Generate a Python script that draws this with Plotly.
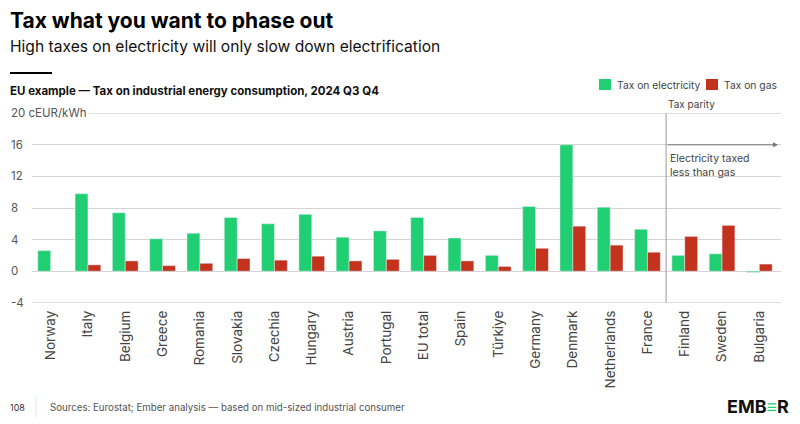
import plotly.graph_objects as go

countries = ["Norway", "Italy", "Belgium", "Greece", "Romania", "Slovakia", "Czechia",
             "Hungary", "Austria", "Portugal", "EU total", "Spain", "Türkiye", "Germany",
             "Denmark", "Netherlands", "France", "Finland", "Sweden", "Bulgaria"]
tax_electricity = [2.6, 9.8, 7.4, 4.1, 4.8, 6.8, 6.0, 7.2, 4.3, 5.1, 6.8, 4.2, 2.0, 8.2,
                   16.0, 8.1, 5.3, 2.0, 2.2, -0.15]
tax_gas = [None, 0.8, 1.3, 0.7, 1.0, 1.6, 1.4, 1.9, 1.3, 1.5, 2.0, 1.3, 0.6, 2.9,
           5.7, 3.3, 2.4, 4.4, 5.8, 0.9]
y_ticks = [-4, 0, 4, 8, 12, 16, 20]
y_tick_text = ["-4", "0", "4", "8", "12", "16", "20 cEUR/kWh"]

GREEN = "#20cf72"
RED = "#c2321d"
GRID = "#d4d4d4"
FONT = "Inter"

# plot area in pixels: x 32..781, y 113..303
PL, PR, PT, PB = 32, 781, 113, 303


def px(x):
    return (x - PL) / (PR - PL)


def py(y):
    return (PB - y) / (PB - PT)


fig = go.Figure()
fig.add_trace(go.Bar(x=countries, y=tax_electricity, name="Tax on electricity",
                     marker_color=GREEN))
fig.add_trace(go.Bar(x=countries, y=tax_gas, name="Tax on gas", marker_color=RED))

fig.update_layout(
    width=800, height=424,
    margin=dict(l=PL, r=800 - PR, t=PT, b=424 - PB),
    paper_bgcolor="white", plot_bgcolor="white",
    font=dict(family=FONT, color="#444444", size=12),
    barmode="group", bargap=0.31, bargroupgap=0,
    showlegend=False,
)
fig.update_xaxes(tickangle=-90, tickfont=dict(size=13.5, color="#444444"),
                 showgrid=False, showline=False, ticks="", automargin=False,
                 ticklabelstandoff=4)
fig.update_yaxes(range=[-4.03, 20.03], tickvals=y_ticks, showticklabels=False,
                 showgrid=True, gridcolor=GRID, gridwidth=1,
                 zeroline=True, zerolinecolor=GRID, zerolinewidth=1)

# edge grid lines (plotly skips them at the plot border)
for v in [y_ticks[0], y_ticks[-1]]:
    fig.add_shape(type="line", xref="paper", yref="y", x0=0, x1=1, y0=v, y1=v,
                  line=dict(color=GRID, width=1), layer="below")

# y tick labels, left aligned like the original
for v, t in zip(y_ticks, y_tick_text):
    fig.add_annotation(x=px(9), xref="paper", xanchor="left", y=v, yref="y",
                       text=t, showarrow=False, bgcolor="white", borderpad=1,
                       font=dict(size=11.5, color="#555555"))

# legend drawn by hand
for x0, color, label in [(599, GREEN, "Tax on electricity"), (706, RED, "Tax on gas")]:
    fig.add_shape(type="rect", xref="paper", yref="paper", x0=px(x0), x1=px(x0 + 12),
                  y0=py(90), y1=py(79), fillcolor=color, line_width=0)
    fig.add_annotation(x=px(x0 + 16), y=py(84.5), xref="paper", yref="paper",
                       xanchor="left", yanchor="middle", text=label, showarrow=False,
                       font=dict(size=10.3, color="#444444"))

# tax parity divider
fig.add_shape(type="line", xref="x", yref="y", x0=16.5, x1=16.5, y0=-4, y1=20,
              line=dict(color="#999999", width=1))
fig.add_annotation(x=16.5, y=20, xref="x", yref="y", xanchor="left", yanchor="bottom",
                   xshift=0, yshift=1, text="Tax parity", showarrow=False,
                   font=dict(size=10, color="#444444"))
fig.add_annotation(x=19.5, y=16, ax=16.5, ay=16, xref="x", yref="y", axref="x", ayref="y",
                   text="", showarrow=True, arrowhead=2, arrowsize=1, arrowwidth=1,
                   arrowcolor="#777777")
fig.add_annotation(x=16.5, y=15.3, xref="x", yref="y", xanchor="left", yanchor="top",
                   xshift=2, align="left", text="Electricity taxed<br>less than gas",
                   showarrow=False, font=dict(size=10.5, color="#444444"))

# titles
fig.add_annotation(x=px(8), y=py(20), xref="paper", yref="paper",
                   xanchor="left", yanchor="middle", showarrow=False,
                   text="<b>Tax what you want to phase out</b>",
                   font=dict(size=21, color="#000000", family=FONT))
fig.add_annotation(x=px(8), y=py(46), xref="paper", yref="paper",
                   xanchor="left", yanchor="middle", showarrow=False,
                   text="High taxes on electricity will only slow down electrification",
                   font=dict(size=15.6, color="#111111", family=FONT))
fig.add_shape(type="line", xref="paper", yref="paper", x0=px(10), x1=px(52),
              y0=py(73), y1=py(73), line=dict(color="#000000", width=2))
fig.add_annotation(x=px(8), y=py(91), xref="paper", yref="paper",
                   xanchor="left", yanchor="middle", showarrow=False,
                   text="<b>EU example — Tax on industrial energy consumption, 2024 Q3 Q4</b>",
                   font=dict(size=11.5, color="#111111", family=FONT))

# footer
fig.add_annotation(x=px(8), y=py(407), xref="paper", yref="paper",
                   xanchor="left", yanchor="middle", showarrow=False, text="108",
                   font=dict(size=9, color="#333333"))
fig.add_shape(type="line", xref="paper", yref="paper", x0=px(36), x1=px(36),
              y0=py(397), y1=py(417), line=dict(color="#dff3e8", width=1.5))
fig.add_annotation(x=px(48), y=py(407), xref="paper", yref="paper",
                   xanchor="left", yanchor="middle", showarrow=False,
                   text="Sources: Eurostat; Ember analysis — based on mid-sized industrial consumer",
                   font=dict(size=9.7, color="#555555"))
fig.add_annotation(x=px(791), y=py(406), xref="paper", yref="paper",
                   xanchor="right", yanchor="middle", showarrow=False,
                   text="<b>EMB<span style='color:#1fce74'>≡</span>R</b>",
                   font=dict(size=18, color="#111111", family=FONT))

fig.write_html("out.html", config={"displayModeBar": False},
               post_script="document.body.style.margin='0';")
